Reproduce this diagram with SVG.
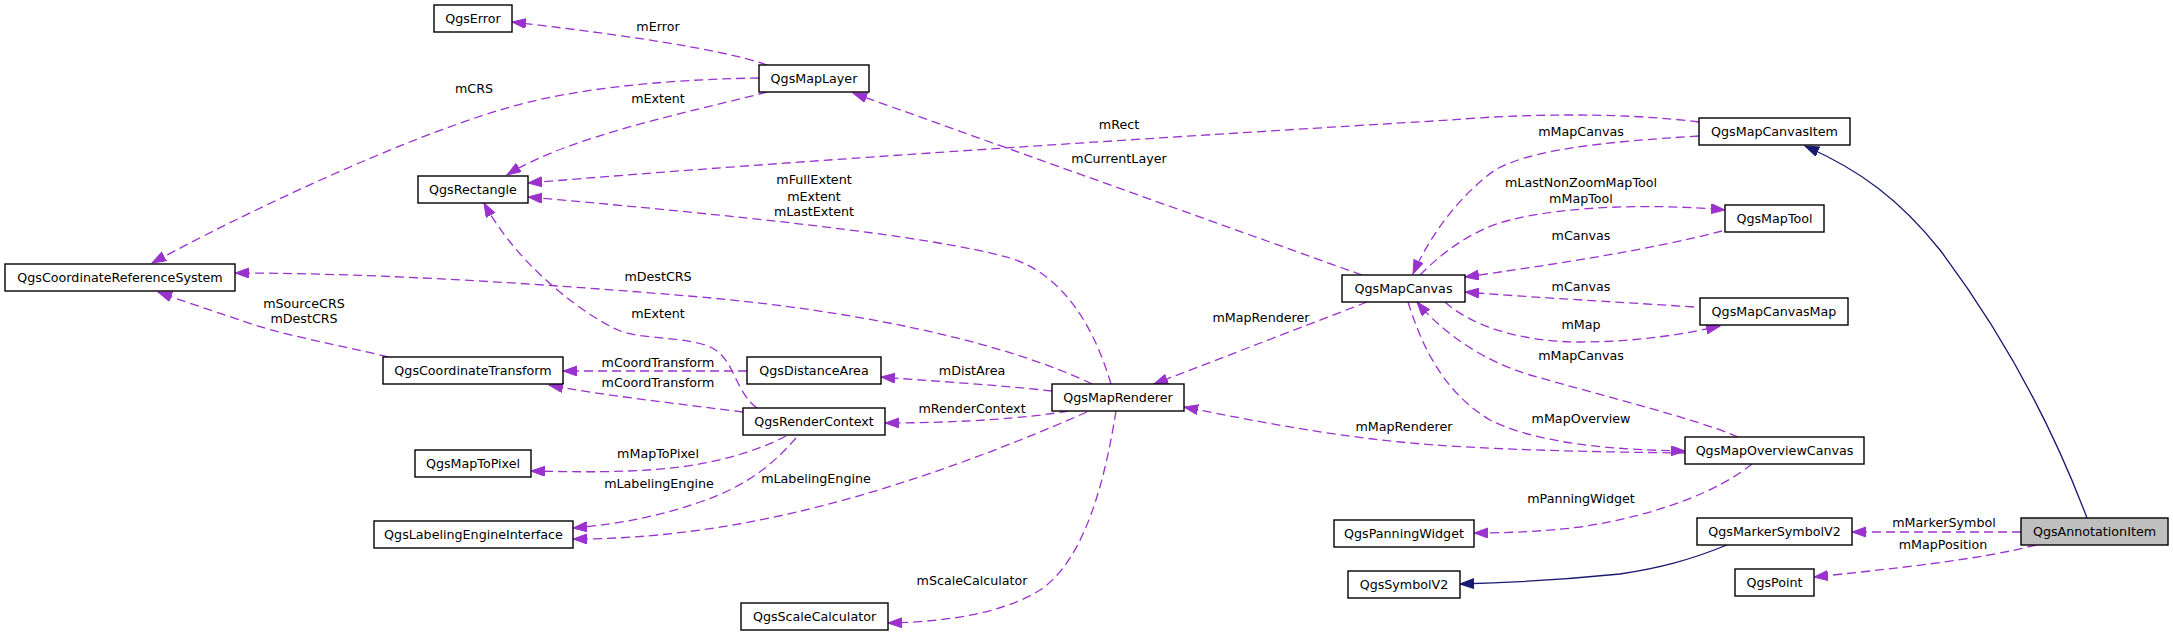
<svg xmlns="http://www.w3.org/2000/svg" width="2173" height="635" viewBox="0 0 2173 635">
<style>
text{font-family:"DejaVu Sans","Liberation Sans",sans-serif;font-size:12.7px;fill:#000}
.n rect{fill:#fff;stroke:#000;stroke-width:1.4}
.n text{text-anchor:middle}
#QgsAnnotationItem rect{fill:#bfbfbf}
.e path{fill:none;stroke:#9a32cd;stroke-width:1.3;stroke-dasharray:9,5}
.e path.inh{stroke:#191970;stroke-dasharray:none}
.lbl text{text-anchor:middle}
</style>
<defs>
<marker id="ap" markerUnits="userSpaceOnUse" markerWidth="15" markerHeight="11" refX="14" refY="5" orient="auto">
<path d="M0,0 L14,5 L0,10 Z" fill="#9a32cd" stroke="#9a32cd" stroke-width="1"/>
</marker>
<marker id="ab" markerUnits="userSpaceOnUse" markerWidth="15" markerHeight="11" refX="14" refY="5" orient="auto">
<path d="M0,0 L14,5 L0,10 Z" fill="#191970" stroke="#191970" stroke-width="1"/>
</marker>
</defs>
<rect width="2173" height="635" fill="#fff"/>
<g id="edges" class="e">
<path marker-end="url(#ap)" d="M767,65 C720,48 600,32 512,22"/>
<path marker-end="url(#ap)" d="M759,78 C690,79 580,85 500,110 C400,140 250,210 152,263"/>
<path marker-end="url(#ap)" d="M767,92 C700,110 570,135 507,175"/>
<path marker-end="url(#ap)" d="M1699,122 C1620,112 1520,114 1450,120 C1200,135 800,160 528,183"/>
<path marker-end="url(#ap)" d="M1111,384 C1095,330 1065,275 1010,258 C930,235 720,214 528,197"/>
<path marker-end="url(#ap)" d="M1092,384 C1000,340 850,310 700,297 C500,280 350,273 235,273"/>
<path marker-end="url(#ap)" d="M388,357 C340,345 280,335 240,320 C210,310 180,300 158,292"/>
<path marker-end="url(#ap)" d="M747,371 L563,371"/>
<path marker-end="url(#ap)" d="M743,412 C680,404 600,395 549,385"/>
<path marker-end="url(#ap)" d="M757,408 C735,392 735,360 712,348 C690,336 640,340 618,330 C590,318 520,270 484,203"/>
<path marker-end="url(#ap)" d="M786,436 C760,450 720,462 680,467 C630,473 580,472 531,471"/>
<path marker-end="url(#ap)" d="M796,438 C775,462 750,485 700,502 C660,516 620,524 573,528"/>
<path marker-end="url(#ap)" d="M1052,391 C1000,385 930,381 881,377"/>
<path marker-end="url(#ap)" d="M1068,411 C1030,418 960,423 885,423"/>
<path marker-end="url(#ap)" d="M1087,412 C1000,450 850,510 700,530 C650,537 610,539 573,539"/>
<path marker-end="url(#ap)" d="M1116,411 C1105,480 1085,560 1040,590 C1000,615 940,622 888,623"/>
<path marker-end="url(#ap)" d="M1367,302 L1154,384"/>
<path marker-end="url(#ap)" d="M1685,453 C1600,452 1480,450 1400,442 C1320,434 1250,420 1184,407"/>
<path marker-end="url(#ap)" d="M1362,275 L853,93"/>
<path marker-end="url(#ap)" d="M1699,136 C1600,142 1530,150 1495,170 C1460,195 1430,235 1413,274"/>
<path marker-end="url(#ap)" d="M1420,275 C1440,255 1470,230 1510,220 C1570,205 1660,204 1725,210"/>
<path marker-end="url(#ap)" d="M1722,231 C1650,250 1550,265 1465,277"/>
<path marker-end="url(#ap)" d="M1694,307 C1620,302 1540,298 1465,292"/>
<path marker-end="url(#ap)" d="M1445,302 C1470,325 1520,342 1580,342 C1640,342 1690,333 1720,326"/>
<path marker-end="url(#ap)" d="M1738,437 C1700,420 1600,395 1530,375 C1480,360 1440,330 1417,302"/>
<path marker-end="url(#ap)" d="M1408,302 C1420,340 1440,390 1490,420 C1540,445 1620,450 1685,451"/>
<path marker-end="url(#ap)" d="M1752,464 C1720,490 1660,515 1580,527 C1540,532 1500,533 1474,533"/>
<path marker-end="url(#ap)" d="M2021,532 L1852,532"/>
<path marker-end="url(#ap)" d="M2036,545 C1980,560 1880,570 1814,577"/>
<path class="inh" marker-end="url(#ab)" d="M1727,545 C1690,560 1660,568 1620,574 C1560,580 1500,583 1460,584"/>
<path class="inh" marker-end="url(#ab)" d="M2087,518 C2050,420 2000,330 1940,250 C1900,200 1860,170 1805,146"/>
</g>
<g id="labels" class="lbl">
<text x="658" y="31">mError</text>
<text x="474" y="93">mCRS</text>
<text x="658" y="103">mExtent</text>
<text x="1119" y="129">mRect</text>
<text x="1119" y="163">mCurrentLayer</text>
<text x="814" y="184">mFullExtent</text>
<text x="814" y="201">mExtent</text>
<text x="814" y="216">mLastExtent</text>
<text x="658" y="281">mDestCRS</text>
<text x="304" y="308">mSourceCRS</text>
<text x="304" y="323">mDestCRS</text>
<text x="658" y="318">mExtent</text>
<text x="658" y="367">mCoordTransform</text>
<text x="658" y="387">mCoordTransform</text>
<text x="658" y="458">mMapToPixel</text>
<text x="659" y="488">mLabelingEngine</text>
<text x="972" y="375">mDistArea</text>
<text x="972" y="413">mRenderContext</text>
<text x="816" y="483">mLabelingEngine</text>
<text x="972" y="585">mScaleCalculator</text>
<text x="1261" y="322">mMapRenderer</text>
<text x="1404" y="431">mMapRenderer</text>
<text x="1581" y="136">mMapCanvas</text>
<text x="1581" y="187">mLastNonZoomMapTool</text>
<text x="1581" y="203">mMapTool</text>
<text x="1581" y="240">mCanvas</text>
<text x="1581" y="291">mCanvas</text>
<text x="1581" y="329">mMap</text>
<text x="1581" y="360">mMapCanvas</text>
<text x="1581" y="423">mMapOverview</text>
<text x="1581" y="503">mPanningWidget</text>
<text x="1944" y="527">mMarkerSymbol</text>
<text x="1943" y="549">mMapPosition</text>
</g>
<g id="QgsError" class="n"><rect x="434" y="5" width="78" height="27"/><text x="473" y="23">QgsError</text></g>
<g id="QgsMapLayer" class="n"><rect x="759" y="65" width="110" height="27"/><text x="814" y="83">QgsMapLayer</text></g>
<g id="QgsRectangle" class="n"><rect x="418" y="176" width="110" height="27"/><text x="473" y="194">QgsRectangle</text></g>
<g id="QgsCoordinateReferenceSystem" class="n"><rect x="5" y="264" width="230" height="27"/><text x="120" y="282">QgsCoordinateReferenceSystem</text></g>
<g id="QgsCoordinateTransform" class="n"><rect x="383" y="357" width="180" height="27"/><text x="473" y="375">QgsCoordinateTransform</text></g>
<g id="QgsMapToPixel" class="n"><rect x="415" y="450" width="116" height="27"/><text x="473" y="468">QgsMapToPixel</text></g>
<g id="QgsLabelingEngineInterface" class="n"><rect x="374" y="521" width="199" height="27"/><text x="473.5" y="539">QgsLabelingEngineInterface</text></g>
<g id="QgsDistanceArea" class="n"><rect x="747" y="357" width="134" height="27"/><text x="814" y="375">QgsDistanceArea</text></g>
<g id="QgsRenderContext" class="n"><rect x="743" y="408" width="142" height="27"/><text x="814" y="426">QgsRenderContext</text></g>
<g id="QgsScaleCalculator" class="n"><rect x="741" y="603" width="147" height="27"/><text x="814.5" y="621">QgsScaleCalculator</text></g>
<g id="QgsMapRenderer" class="n"><rect x="1052" y="384" width="132" height="27"/><text x="1118" y="402">QgsMapRenderer</text></g>
<g id="QgsMapCanvas" class="n"><rect x="1342" y="275" width="123" height="27"/><text x="1403.5" y="293">QgsMapCanvas</text></g>
<g id="QgsPanningWidget" class="n"><rect x="1334" y="520" width="140" height="27"/><text x="1404" y="538">QgsPanningWidget</text></g>
<g id="QgsSymbolV2" class="n"><rect x="1348" y="571" width="112" height="27"/><text x="1404" y="589">QgsSymbolV2</text></g>
<g id="QgsMapCanvasItem" class="n"><rect x="1699" y="118" width="151" height="27"/><text x="1774.5" y="136">QgsMapCanvasItem</text></g>
<g id="QgsMapTool" class="n"><rect x="1725" y="205" width="99" height="27"/><text x="1774.5" y="223">QgsMapTool</text></g>
<g id="QgsMapCanvasMap" class="n"><rect x="1700" y="298" width="148" height="27"/><text x="1774" y="316">QgsMapCanvasMap</text></g>
<g id="QgsMapOverviewCanvas" class="n"><rect x="1685" y="437" width="179" height="27"/><text x="1774.5" y="455">QgsMapOverviewCanvas</text></g>
<g id="QgsMarkerSymbolV2" class="n"><rect x="1697" y="518" width="155" height="27"/><text x="1774.5" y="536">QgsMarkerSymbolV2</text></g>
<g id="QgsPoint" class="n"><rect x="1735" y="569" width="79" height="27"/><text x="1774.5" y="587">QgsPoint</text></g>
<g id="QgsAnnotationItem" class="n"><rect x="2021" y="518" width="147" height="27"/><text x="2094.5" y="536">QgsAnnotationItem</text></g>
</svg>
